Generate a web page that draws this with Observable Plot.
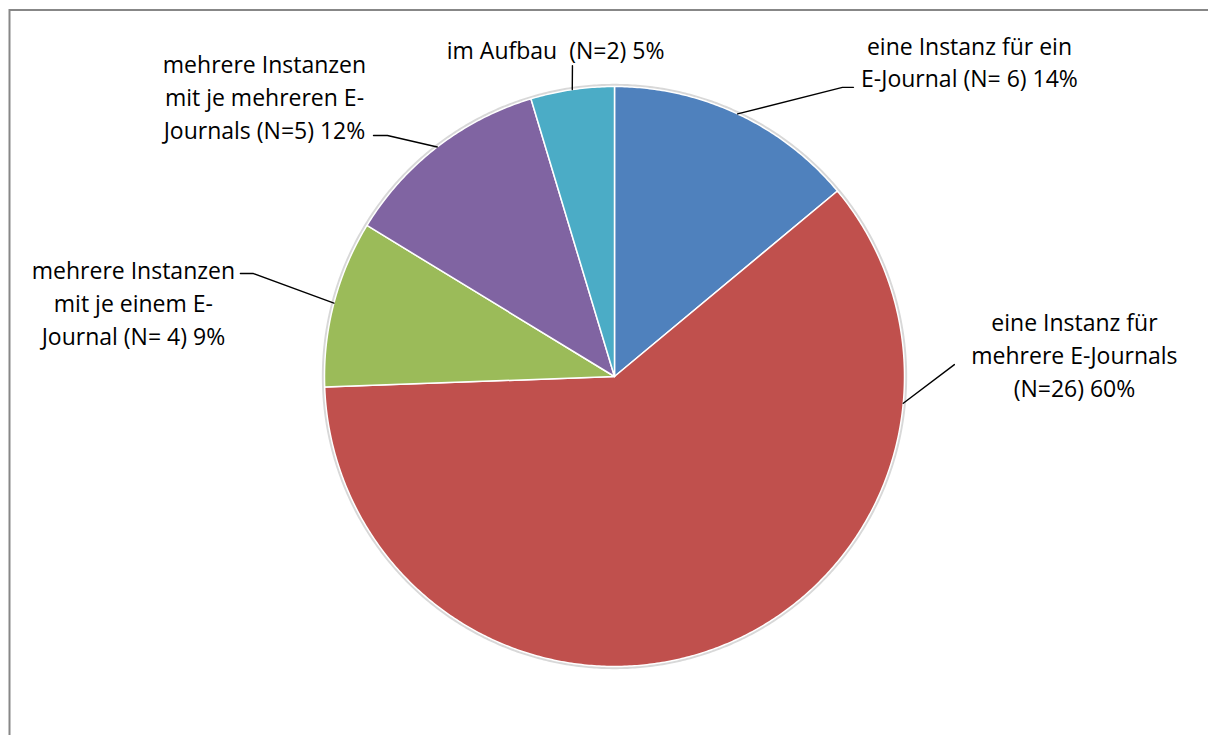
<!DOCTYPE html>
<html>
<head>
<meta charset="utf-8">
<script src="https://cdn.jsdelivr.net/npm/d3@7"></script>
<script src="https://cdn.jsdelivr.net/npm/@observablehq/plot@0.6"></script>
<style>
  html, body { margin: 0; padding: 0; background: #fff; }
  #chart svg { display: block; }
</style>
</head>
<body>
<div id="chart"></div>
<script>
// ---- Data ----
const categories = [
  "eine Instanz für ein E-Journal",
  "eine Instanz für mehrere E-Journals",
  "mehrere Instanzen mit je einem E-Journal",
  "mehrere Instanzen mit je mehreren E-Journals",
  "im Aufbau"
];
const counts = [6, 26, 4, 5, 2];
const percents = [14, 60, 9, 12, 5];
const labelTexts = [
  "eine Instanz für ein\nE-Journal (N= 6) 14%",
  "eine Instanz für\nmehrere E-Journals\n(N=26) 60%",
  "mehrere Instanzen\nmit je einem E-\nJournal (N= 4) 9%",
  "mehrere Instanzen\nmit je mehreren E-\nJournals (N=5) 12%",
  "im Aufbau  (N=2) 5%"
];
const colors = ["#4F81BD", "#C0504D", "#9BBB59", "#8064A2", "#4BACC6"];

// ---- Layout (label placement, in pie-radius units; 1 = radius) ----
const labelPos = [[1.224, 1.083], [1.586, 0.072], [-1.659, 0.252], [-1.207, 0.962], [-0.203, 1.124]];
const leaderAngleDeg = [null, 95.3, null, null, null]; // null = slice middle
const leaderElbows = [
  [[0.786, 0.997], [0.824, 0.997]],
  [[1.172, 0.041]],
  [[-1.245, 0.355], [-1.290, 0.355]],
  [[-0.783, 0.831], [-0.831, 0.831]],
  [[-0.145, 1.072]]
];

// ---- Geometry from values ----
const total = d3.sum(counts);
let acc = 0;
const slices = categories.map((c, i) => {
  const a0 = acc / total * 2 * Math.PI;
  acc += counts[i];
  const a1 = acc / total * 2 * Math.PI;
  return {c, a0, a1, mid: (a0 + a1) / 2};
});
const piePts = slices.flatMap(s => {
  const pts = [{x: 0, y: 0, c: s.c}];
  const n = Math.max(2, Math.ceil((s.a1 - s.a0) / (Math.PI / 360)));
  for (let k = 0; k <= n; k++) {
    const a = s.a0 + (s.a1 - s.a0) * k / n;
    pts.push({x: Math.sin(a), y: Math.cos(a), c: s.c});
  }
  pts.push({x: 0, y: 0, c: s.c});
  return pts;
});
const ringPts = d3.range(0, 721).map(k => {
  const a = k / 720 * 2 * Math.PI;
  return {x: Math.sin(a) * 1.004, y: Math.cos(a) * 1.004};
});
const leaderPts = slices.flatMap((s, i) => {
  const a = leaderAngleDeg[i] == null ? s.mid : leaderAngleDeg[i] * Math.PI / 180;
  const pts = [{x: Math.sin(a), y: Math.cos(a), id: i}];
  leaderElbows[i].forEach(([x, y]) => pts.push({x, y, id: i}));
  return pts;
});
const labelData = categories.map((c, i) => ({c, x: labelPos[i][0], y: labelPos[i][1], text: labelTexts[i]}));

const W = 1208, H = 735, CX = 614, CY = 376, R = 290;

const chart = Plot.plot({
  width: W,
  height: H,
  margin: 0,
  style: {fontFamily: "'Open Sans', sans-serif", background: "#fff"},
  x: {domain: [-CX / R, (W - CX) / R], axis: null},
  y: {domain: [-(H - CY) / R, CY / R], axis: null},
  color: {domain: categories, range: colors},
  marks: [
    Plot.frame({stroke: "#878787", strokeWidth: 2, insetLeft: 9, insetTop: 9.5, insetRight: -20, insetBottom: -20}),
    Plot.line(ringPts, {x: "x", y: "y", stroke: "#c8c8c8", strokeWidth: 3, strokeOpacity: 0.7}),
    Plot.line(piePts, {x: "x", y: "y", z: "c", fill: "c", stroke: "white", strokeWidth: 1.5, strokeLinejoin: "round"}),
    Plot.line(leaderPts, {x: "x", y: "y", z: "id", stroke: "black", strokeWidth: 1.4}),
    Plot.text(labelData, {x: "x", y: "y", text: "text", fontSize: 23, lineHeight: 1.43, dy: -2, fill: "black", textAnchor: "middle", lineAnchor: "middle"})
  ]
});
document.getElementById("chart").appendChild(chart);
</script>
</body>
</html>
